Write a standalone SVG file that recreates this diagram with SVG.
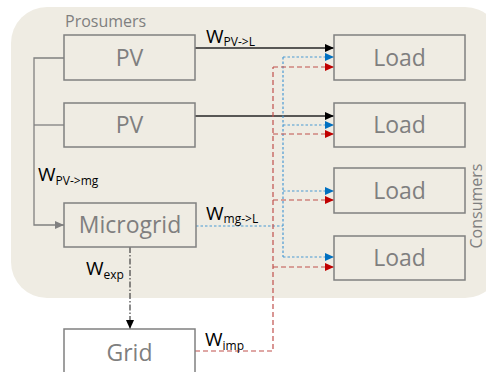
<svg xmlns="http://www.w3.org/2000/svg" width="486" height="372" viewBox="0 0 486 372">
<defs>
<style>
.box{fill:#efece3;stroke:#808080;stroke-width:1.5}
.btxt{font-family:"Open Sans","Liberation Sans",sans-serif;font-size:23px;fill:#7f7f7f;text-anchor:middle}
.grp{font-family:"Open Sans","Liberation Sans",sans-serif;font-size:16px;fill:#7f7f7f}
.lbl{font-family:"Open Sans","Liberation Sans",sans-serif;font-size:19px;fill:#000}
.sub{font-size:12px}
.gray{stroke:#808080;stroke-width:1.3;fill:none}
.blk{stroke:#262626;stroke-width:1.3;fill:none}
.blue{stroke:#4a9ad4;stroke-width:1.2;stroke-dasharray:2.5 2;fill:none}
.red{stroke:#c0504d;stroke-width:1.2;stroke-dasharray:5 3;fill:none}
.dd{stroke:#404040;stroke-width:1.2;stroke-dasharray:6 2 1.5 2;fill:none}
</style>
<marker id="aBlk" markerWidth="9" markerHeight="8" refX="9" refY="4" orient="auto" markerUnits="userSpaceOnUse"><path d="M0,0 L9,4 L0,8 Z" fill="#000"/></marker>
<marker id="aBlue" markerWidth="9" markerHeight="8" refX="9" refY="4" orient="auto" markerUnits="userSpaceOnUse"><path d="M0,0 L9,4 L0,8 Z" fill="#0070c0"/></marker>
<marker id="aRed" markerWidth="9" markerHeight="8" refX="9" refY="4" orient="auto" markerUnits="userSpaceOnUse"><path d="M0,0 L9,4 L0,8 Z" fill="#c00000"/></marker>
<marker id="aGray" markerWidth="9" markerHeight="8" refX="9" refY="4" orient="auto" markerUnits="userSpaceOnUse"><path d="M0,0 L9,4 L0,8 Z" fill="#808080"/></marker>
</defs>
<rect width="486" height="372" fill="#ffffff"/>
<rect id="background" x="11" y="7" width="490" height="291" rx="36" fill="#efece3"/>
<text class="grp" x="65" y="27">Prosumers</text>
<text class="grp" transform="translate(482,206) rotate(-90)" text-anchor="middle">Consumers</text>

<g id="connectors">
<path class="gray" d="M64,58 H34 V225 H64" marker-end="url(#aGray)"/>
<path class="gray" d="M34,125 H64"/>
<path class="blk" d="M195,48 H334" marker-end="url(#aBlk)"/>
<path class="blk" d="M195,116 H334" marker-end="url(#aBlk)"/>
<path class="blue" d="M196,226 H283"/>
<path class="blue" d="M283,57 V257"/>
<path class="blue" d="M283,57 H334" marker-end="url(#aBlue)"/>
<path class="blue" d="M283,125 H334" marker-end="url(#aBlue)"/>
<path class="blue" d="M283,191 H334" marker-end="url(#aBlue)"/>
<path class="blue" d="M283,257 H334" marker-end="url(#aBlue)"/>
<path class="red" d="M195,351 H273 V67"/>
<path class="red" d="M273,67 H334" marker-end="url(#aRed)"/>
<path class="red" d="M273,134 H334" marker-end="url(#aRed)"/>
<path class="red" d="M273,200 H334" marker-end="url(#aRed)"/>
<path class="red" d="M273,267 H334" marker-end="url(#aRed)"/>
<path class="dd" d="M130,247 V329" marker-end="url(#aBlk)"/>
</g>

<g id="labels">
<text class="lbl" x="206" y="43">W<tspan class="sub" dy="3">PV-&gt;L</tspan></text>
<text class="lbl" x="38" y="181">W<tspan class="sub" dy="4">PV-&gt;mg</tspan></text>
<text class="lbl" x="206" y="220">W<tspan class="sub" dy="3">mg-&gt;L</tspan></text>
<text class="lbl" x="86" y="275">W<tspan class="sub" dy="4">exp</tspan></text>
<text class="lbl" x="205" y="346">W<tspan class="sub" dy="4">imp</tspan></text>
</g>

<g id="pv1"><rect class="box" x="64" y="35" width="131" height="45"/><text class="btxt" x="129.5" y="66">PV</text></g>
<g id="pv2"><rect class="box" x="64" y="103" width="131" height="44"/><text class="btxt" x="129.5" y="133">PV</text></g>
<g id="microgrid"><rect class="box" x="64" y="203" width="132" height="44"/><text class="btxt" x="130" y="233">Microgrid</text></g>
<g id="grid"><rect class="box" x="64" y="329" width="131" height="50" style="fill:#ffffff"/><text class="btxt" x="129.5" y="361">Grid</text></g>
<g id="load1"><rect class="box" x="334" y="35" width="131" height="45"/><text class="btxt" x="399.5" y="66">Load</text></g>
<g id="load2"><rect class="box" x="334" y="103" width="131" height="44"/><text class="btxt" x="399.5" y="133">Load</text></g>
<g id="load3"><rect class="box" x="334" y="168" width="131" height="45"/><text class="btxt" x="399.5" y="199">Load</text></g>
<g id="load4"><rect class="box" x="334" y="236" width="131" height="44"/><text class="btxt" x="399.5" y="266">Load</text></g>
</svg>
